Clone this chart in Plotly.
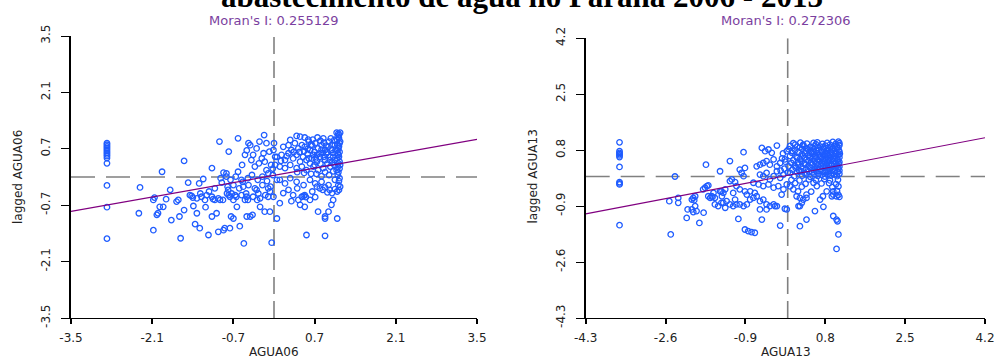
import plotly.graph_objects as go

# ---------------------------------------------------------------
# Diagrama de espalhamento de Moran - abastecimento de água (PR)
# ---------------------------------------------------------------
titulo = "abastecimento de água no Paraná 2006 - 2013"
anos = ["06", "13"]
moran_i = [0.255129, 0.272306]
intercepto = [0.04, 0.035]

ticks_06 = [-3.5, -2.1, -0.7, 0.7, 2.1, 3.5]
ticks_13 = [-4.3, -2.6, -0.9, 0.8, 2.5, 4.2]

# 2006: municípios com o menor valor padronizado (mesma abscissa)
agua06_min = -2.88
lag06_min = [0.84, 0.80, 0.76, 0.72, 0.68, 0.64, 0.60, 0.56, 0.52, 0.47,
             0.34, -0.21, -0.75, -1.53]

# 2006: demais municípios (AGUA06, lagged AGUA06)
pares06_esq = [
    (-2.31, -0.26), (-2.33, -0.90), (-1.93, 0.13), (-2.08, -1.32), (-2.06, -0.51),
    (-2.08, -0.57), (-1.97, -0.74), (-1.91, -0.74), (-2.02, -0.94), (-2.00, -0.90),
    (-1.79, -0.32), (-1.77, -1.07), (-1.86, -0.55), (-1.68, -0.61), (-1.65, -0.57),
    (-1.61, -1.52), (-1.63, -0.98), (-1.55, 0.40), (-1.55, -0.82), (-1.48, -0.14),
    (-1.45, -0.45), (-1.42, -0.47), (-1.39, -0.72), (-1.36, -1.17), (-1.33, -0.90),
    (-1.29, -0.16), (-1.28, -1.27), (-1.25, -0.49), (-1.22, -0.05), (-1.19, -0.57),
    (-1.18, -0.75), (-1.13, -1.44), (-1.12, -0.36), (-1.07, 0.22), (-1.07, -0.98),
    (-1.05, -0.55), (-1.02, -0.28), (-0.99, -0.90), (-0.96, -1.36), (-0.94, 0.88),
    (-0.93, -0.57), (-0.90, -0.14), (-0.87, 0.11), (-0.87, -1.32), (-0.85, -1.27),
    (-0.82, 0.09), (-0.82, 0.01), (-0.79, -0.32), (-0.78, 0.63), (-0.76, -0.49),
    (-0.76, -1.27), (-0.74, -0.98), (-0.70, -0.57), (-0.70, -1.03), (-0.67, -0.45),
    (-0.64, -0.74), (-0.62, 0.96), (-0.62, 0.13), (-0.59, -1.22), (-0.56, -0.07),
    (-0.54, -0.12), (-0.53, -0.24), (-0.52, -1.65), (-0.50, 0.55), (-0.50, -0.57),
    (-0.47, -0.49), (-0.47, -0.98), (-0.41, -0.98), (-0.44, 0.84), (-0.41, 0.79),
    (-0.39, 0.42), (-0.37, -0.94), (-0.36, 0.55), (-0.33, 0.26), (-0.30, -0.32),
    (-0.27, -0.41), (-0.25, 0.88), (-0.24, -0.74), (-0.21, 0.46), (-0.18, 0.59),
    (-0.17, 1.04), (-0.16, -0.86), (-0.13, 0.84), (-0.13, 0.17), (-0.10, 0.09),
    (-0.10, -0.28), (-0.07, -0.36), (-0.07, -0.86), (-0.04, -1.63), (-0.01, 0.67),
    (0.02, 0.50), (-0.01, -0.49), (0.05, -0.07), (0.05, -1.03),
    (-1.40, -0.51), (-1.33, -0.53), (-1.27, -0.41), (-1.16, -0.45), (-1.07, -0.49),
    (-1.02, -0.57), (-0.96, -0.53), (-0.88, -0.57), (-0.81, -0.41), (-0.78, -0.45),
    (-0.73, -0.41), (-0.65, -0.49), (-0.56, -0.45), (-0.48, -0.41), (-0.45, -0.57),
    (-0.36, -0.49), (-0.29, -0.57), (-0.24, -0.53), (-0.15, -0.45), (-0.10, -0.49),
    (-0.80, -0.24), (-0.70, -0.20), (-0.60, -0.28), (-0.44, -0.20), (-0.33, -0.28),
    (-0.20, -0.20), (-0.06, -0.24), (-0.92, -0.03), (-0.75, -0.07), (-0.66, 0.01),
    (-0.45, -0.03), (-0.38, 0.05), (-0.28, -0.07), (-0.20, 0.01), (-0.12, -0.10),
    (-0.02, 0.05), (-0.55, 0.30), (-0.47, 0.66), (-0.30, 0.71), (-0.26, 0.34),
    (-0.16, 0.38), (-0.08, 0.63), (-0.05, 0.30), (0.00, 0.84), (-0.02, 0.21),
]
pares06_dir = [
    (0.39, 1.02), (0.45, 1.00), (0.53, 0.98), (0.59, 0.93), (0.67, 0.93),
    (0.75, 0.98), (0.85, 0.96), (1.08, 1.10), (1.11, 1.08), (1.14, 1.10), (1.12, 1.04),
    (0.16, 0.75), (0.25, 0.79), (0.30, 0.67), (0.36, 0.84), (0.42, 0.71),
    (0.48, 0.79), (0.53, 0.75), (0.62, 0.67), (0.71, 0.84), (0.76, 0.71),
    (0.82, 0.79), (0.88, 0.67), (0.94, 0.75), (0.99, 0.67), (1.05, 0.79),
    (1.11, 0.71), (1.14, 0.88), (0.05, 0.50), (0.13, 0.55), (0.19, 0.42),
    (0.25, 0.59), (0.33, 0.46), (0.39, 0.55), (0.45, 0.38), (0.50, 0.50),
    (0.56, 0.42), (0.65, 0.46), (0.74, 0.38), (0.79, 0.50), (0.88, 0.42),
    (0.97, 0.50), (1.05, 0.42), (1.11, 0.55), (0.02, 0.30), (0.10, 0.26),
    (0.19, 0.22), (0.28, 0.30), (0.39, 0.22), (0.48, 0.26), (0.56, 0.17),
    (0.68, 0.26), (0.76, 0.17), (0.85, 0.22), (0.97, 0.26), (1.08, 0.17),
    (1.14, 0.30), (0.60, 0.88), (0.64, 0.80), (0.70, 0.62), (0.80, 0.90),
    (0.86, 0.85), (0.90, 0.58), (0.95, 0.88), (1.00, 0.80), (1.02, 0.60),
    (0.58, 0.58), (0.68, 0.55), (0.84, 0.60), (0.92, 0.34), (0.62, 0.34),
    (0.70, 0.30), (0.80, 0.33), (1.00, 0.36), (0.44, 0.62), (0.52, 0.64),
    (0.34, 0.62), (0.28, 0.92), (0.22, 0.52), (0.12, 0.40), (0.40, 0.12),
    (0.52, 0.10), (0.64, 0.08), (0.88, 0.12), (0.95, 0.05),
    (1.10, 1.00), (1.12, 0.96), (1.09, 0.92), (1.13, 0.84), (1.10, 0.80),
    (1.12, 0.76), (1.09, 0.66), (1.13, 0.62), (1.10, 0.59), (1.12, 0.50),
    (1.09, 0.46), (1.13, 0.38), (1.11, 0.34), (1.10, 0.25), (1.13, 0.21),
    (1.11, 0.12), (1.10, 0.05), (1.13, -0.03), (1.12, -0.10), (1.11, -0.20),
    (1.14, -0.24), (1.12, -0.32), (1.09, -0.36),
    (0.58, 0.70), (0.66, 0.78), (0.72, 0.46), (0.78, 0.58), (0.86, 0.50),
    (0.92, 0.62), (0.96, 0.42), (1.02, 0.50), (1.04, 0.30), (0.60, 0.46),
    (0.73, 0.08), (0.82, 0.02), (1.02, 0.14), (1.06, 0.66), (0.90, 0.78),
    (0.98, 0.96), (1.04, 0.92), (0.82, 0.68), (0.74, 0.55),
    (0.10, -0.07), (0.19, -0.16), (0.28, -0.03), (0.39, -0.12), (0.51, -0.20),
    (0.62, -0.07), (0.71, -0.16), (0.82, -0.12), (0.94, -0.20), (1.05, -0.07),
    (0.74, -0.24), (0.79, -0.28), (0.88, -0.26), (0.96, -0.32), (1.05, -0.30),
    (0.84, -0.32), (0.92, -0.38), (1.00, -0.40), (0.25, -0.32), (0.33, -0.45),
    (0.42, -0.57), (0.45, -0.69), (0.53, -0.74), (0.48, -0.49), (0.53, -0.45),
    (0.51, -0.47), (0.55, -0.50), (0.71, -0.50), (0.62, -0.57), (1.02, -0.57),
    (0.99, -0.69), (0.94, -0.86), (0.88, -1.03), (0.88, -0.98), (1.09, -1.03),
    (0.76, -0.86), (0.10, -0.65), (0.56, -1.44), (0.88, -1.46), (0.16, -0.40),
    (0.30, -0.60), (0.66, -0.36), (0.40, -0.28),
]

# 2013: municípios com o menor valor padronizado (mesma abscissa)
agua13_min = -3.58
lag13_min = [1.04, 0.77, 0.72, 0.68, 0.64, 0.59, 0.29, -0.17, -0.21, -0.24, -1.48]

# 2013: demais municípios (AGUA13, lagged AGUA13)
pares13_esq = [
    (-2.40, 0.00), (-2.52, -0.75), (-2.33, -0.65), (-2.33, -0.80), (-2.49, -1.76),
    (-2.13, -1.00), (-2.04, -1.00), (-2.15, -1.26), (-1.99, -0.72), (-1.97, -0.90),
    (-1.94, -1.05), (-2.01, -1.08), (-1.88, -1.41), (-1.79, -1.10), (-1.76, -0.34),
    (-1.72, -0.29), (-1.69, -0.60), (-1.74, 0.36), (-1.62, -0.60), (-1.58, -0.50),
    (-1.44, 0.16), (-1.44, -0.45), (-1.40, -0.60), (-1.37, -0.80), (-1.33, -0.95),
    (-1.23, -0.14), (-1.23, 0.47), (-1.16, -0.50), (-1.12, -0.70), (-1.09, -0.85),
    (-1.05, -1.29), (-0.94, 0.74), (-0.91, -1.61),
    (-2.01, -0.65), (-1.97, -0.60), (-2.04, -0.70), (-1.80, -0.39), (-1.69, -0.27),
    (-1.65, -0.65), (-1.60, -0.62), (-1.55, -0.65), (-1.55, -0.85), (-1.48, -0.90),
    (-1.41, -0.80), (-1.41, -0.45), (-1.37, -0.50), (-1.33, -0.39), (-1.30, -0.75),
    (-1.23, -0.85), (-1.16, -0.90), (-1.02, -0.85), (-0.94, -0.90), (-0.87, -0.85),
    (-1.19, -0.09), (-1.12, -0.17), (-1.09, -0.29), (-1.02, 0.21), (-0.98, 0.11),
    (-0.94, 0.01), (-0.91, 0.26), (-1.02, -0.39), (-0.91, -0.45), (-0.80, -0.45),
    (-0.70, -0.50), (-0.87, -0.55), (-0.80, -0.70), (-0.73, -0.65), (-0.66, -0.60),
    (-0.59, -0.75), (-0.52, -0.70), (-0.45, -0.85), (-0.38, -0.90), (-0.30, -0.85),
    (-0.23, -0.90), (-0.59, -1.00), (-0.55, -1.31), (-0.45, -1.00), (-0.84, -1.66),
    (-0.77, -1.69), (-0.70, -1.71), (-0.55, 0.87), (-0.48, 0.77), (-0.41, 0.82),
    (-0.34, 0.72), (-0.23, 0.94), (-0.66, 0.31), (-0.59, 0.36), (-0.52, 0.41),
    (-0.45, 0.47), (-0.38, 0.36), (-0.30, 0.52), (-0.23, 0.31), (-0.16, 0.41),
    (-0.59, 0.06), (-0.52, 0.01), (-0.45, 0.11), (-0.38, -0.09), (-0.30, 0.01),
    (-0.23, 0.16), (-0.16, -0.04), (-0.09, 0.06), (-0.73, -0.19), (-0.62, -0.24),
    (-0.52, -0.29), (-0.41, -0.24), (-0.30, -0.34), (-0.20, -0.29), (-0.09, -0.39),
    (-0.02, -0.24), (-0.16, -1.49), (-0.02, 0.77), (-0.02, -1.00), (-0.27, -0.90),
    (-0.13, -0.55), (-0.06, -0.98), (-0.12, 0.55), (-0.07, 0.24),
    (-0.10, 0.70), (-0.05, 0.45), (-0.15, 0.18), (0.00, 0.12),
]
pares13_dir = [
    (0.12, -0.39), (0.19, -0.60), (0.26, -0.65), (0.33, -0.70), (0.40, -0.65),
    (0.23, -0.90), (0.26, -1.51), (0.40, -1.31), (0.55, 1.02), (0.16, 0.97),
    (0.33, 0.97), (0.58, -1.05), (0.76, -0.92), (0.69, -0.70), (0.83, -0.45),
    (0.97, -0.55), (0.97, -1.20), (1.04, -1.31), (1.06, -1.36), (1.08, -1.76),
    (1.04, -2.20), (0.94, -0.60), (1.04, -0.60), (0.97, -0.45), (0.26, -0.90),
    (0.30, -0.80),
    (0.12, 1.01), (0.27, 1.03), (0.41, 1.00), (0.63, 1.04), (0.84, 1.02),
    (0.96, 1.05), (1.08, 1.06),
    (0.05, 0.93), (0.20, 0.91), (0.33, 0.94), (0.48, 0.90), (0.58, 0.93),
    (0.70, 0.91), (0.80, 0.94), (0.91, 0.90), (1.00, 0.93), (1.10, 0.95),
    (0.02, 0.83), (0.16, 0.80), (0.31, 0.84), (0.44, 0.81), (0.55, 0.83),
    (0.66, 0.80), (0.77, 0.84), (0.86, 0.81), (0.95, 0.83), (1.06, 0.86),
    (0.09, 0.72), (0.23, 0.74), (0.37, 0.70), (0.51, 0.73), (0.62, 0.71),
    (0.73, 0.74), (0.83, 0.70), (0.93, 0.73), (1.03, 0.71), (1.10, 0.75),
    (0.05, 0.62), (0.19, 0.60), (0.33, 0.64), (0.47, 0.61), (0.58, 0.63),
    (0.69, 0.60), (0.79, 0.64), (0.89, 0.61), (0.99, 0.62), (1.08, 0.65),
    (-0.06, 0.52), (0.12, 0.50), (0.26, 0.53), (0.40, 0.51), (0.53, 0.54),
    (0.65, 0.50), (0.76, 0.53), (0.86, 0.51), (0.96, 0.54), (1.06, 0.52),
    (0.08, 0.41), (0.22, 0.43), (0.36, 0.40), (0.50, 0.42), (0.62, 0.39),
    (0.73, 0.43), (0.83, 0.41), (0.93, 0.38), (1.02, 0.42), (1.10, 0.44),
    (0.02, 0.31), (0.15, 0.33), (0.29, 0.30), (0.44, 0.32), (0.58, 0.29),
    (0.70, 0.33), (0.82, 0.30), (0.94, 0.32), (1.05, 0.34),
    (0.10, 0.21), (0.24, 0.19), (0.40, 0.22), (0.55, 0.20), (0.69, 0.23),
    (0.82, 0.19), (0.95, 0.21), (1.08, 0.24),
    (0.05, 0.11), (0.20, 0.13), (0.36, 0.10), (0.52, 0.12), (0.66, 0.09),
    (0.80, 0.12), (0.93, 0.10), (1.06, 0.13),
    (0.14, 0.01), (0.31, 0.03), (0.48, -0.01), (0.64, 0.02), (0.79, 0.00),
    (0.92, 0.03), (1.05, 0.01),
    (0.60, 0.98), (0.74, 0.99), (0.90, 0.97), (1.02, 0.99), (1.10, 1.01),
    (0.26, 0.88), (0.40, 0.86), (0.53, 0.88), (0.64, 0.87), (0.75, 0.89),
    (0.86, 0.87), (0.96, 0.88), (1.05, 0.90), (0.10, 0.78), (0.38, 0.77),
    (0.50, 0.76), (0.61, 0.78), (0.72, 0.77), (0.82, 0.78), (0.91, 0.76),
    (1.00, 0.78), (1.09, 0.80), (0.30, 0.67), (0.44, 0.66), (0.55, 0.68),
    (0.66, 0.67), (0.76, 0.66), (0.85, 0.68), (0.95, 0.66), (1.04, 0.68),
    (1.11, 0.69), (0.20, 0.56), (0.35, 0.57), (0.47, 0.56), (0.60, 0.58),
    (0.71, 0.56), (0.81, 0.58), (0.91, 0.57), (1.01, 0.56), (1.10, 0.58),
    (0.30, 0.46), (0.44, 0.47), (0.57, 0.46), (0.68, 0.47), (0.79, 0.46),
    (0.88, 0.47), (0.98, 0.46), (1.07, 0.48), (0.22, 0.36), (0.36, 0.37),
    (0.51, 0.36), (0.64, 0.35), (0.76, 0.37), (0.88, 0.35), (0.99, 0.37),
    (1.09, 0.38), (0.17, 0.26), (0.33, 0.25), (0.48, 0.27), (0.62, 0.26),
    (0.76, 0.27), (0.89, 0.25), (1.01, 0.28), (1.10, 0.30), (0.28, 0.16),
    (0.45, 0.15), (0.60, 0.17), (0.74, 0.15), (0.87, 0.16), (1.00, 0.17),
    (1.10, 0.18), (0.40, 0.06), (0.57, 0.07), (0.72, 0.05), (0.86, 0.07),
    (0.99, 0.06), (1.10, 0.08),
    (0.08, -0.10), (0.25, -0.12), (0.45, -0.09), (0.60, -0.11), (0.78, -0.08),
    (0.90, -0.12), (1.07, -0.10),
    (0.16, -0.20), (0.38, -0.22), (0.55, -0.19), (0.72, -0.21), (0.88, -0.20),
    (1.03, -0.23), (0.05, -0.30), (0.30, -0.31), (0.62, -0.29), (0.95, -0.32),
    (1.08, -0.30), (0.22, -0.45), (0.50, -0.46), (1.05, -0.44), (0.40, -0.55),
    (1.08, -0.56), (0.75, -0.60), (1.10, -0.62),
]

AZUL = "#1f5cff"
ROXO = "#800080"
CINZA = "#808080"
FONTE = "DejaVu Sans"
W, H = 994, 358


def px_x(p):
    return p / W


def px_y(p):
    return 1 - p / H


fig = go.Figure()

paineis = [
    dict(ano=anos[0], xmin=agua06_min, ymin=lag06_min, esq=pares06_esq, dir=pares06_dir,
         ticks=ticks_06, xa="x", ya="y", I=moran_i[0], b=intercepto[0]),
    dict(ano=anos[1], xmin=agua13_min, ymin=lag13_min, esq=pares13_esq, dir=pares13_dir,
         ticks=ticks_13, xa="x2", ya="y2", I=moran_i[1], b=intercepto[1]),
]

for p in paineis:
    pts = p["esq"] + p["dir"]
    xs = [p["xmin"]] * len(p["ymin"]) + [a for a, _ in pts]
    ys = list(p["ymin"]) + [b for _, b in pts]
    lo, hi = p["ticks"][0], p["ticks"][-1]
    # linhas tracejadas nas médias (zero para variáveis padronizadas)
    fig.add_trace(go.Scatter(x=[lo, hi], y=[0, 0], mode="lines", xaxis=p["xa"], yaxis=p["ya"],
                             line=dict(color=CINZA, width=1.3, dash="24px,11px"),
                             hoverinfo="skip", showlegend=False))
    fig.add_trace(go.Scatter(x=[0, 0], y=[lo, hi], mode="lines", xaxis=p["xa"], yaxis=p["ya"],
                             line=dict(color=CINZA, width=1.6, dash="17px,7px"),
                             hoverinfo="skip", showlegend=False))
    fig.add_trace(go.Scatter(x=xs, y=ys, mode="markers", xaxis=p["xa"], yaxis=p["ya"],
                             marker=dict(symbol="circle-open", size=5.5, color=AZUL,
                                         line=dict(width=1.3, color=AZUL)),
                             showlegend=False))
    # reta de regressão: inclinação = I de Moran
    fig.add_trace(go.Scatter(x=[lo, hi], y=[p["b"] + p["I"] * lo, p["b"] + p["I"] * hi],
                             mode="lines", xaxis=p["xa"], yaxis=p["ya"],
                             line=dict(color=ROXO, width=1.2), showlegend=False))

eixo_comum = dict(showgrid=False, zeroline=False, showline=True, linecolor="black",
                  ticks="outside", tickcolor="black", automargin=False,
                  ticklabeloverflow="allow",
                  tickfont=dict(family=FONTE, size=12, color="#222"))


def eixo_x(dom, ticks):
    return dict(eixo_comum, domain=dom, range=[ticks[0], ticks[-1]], tickvals=ticks,
                ticktext=[f"{t:.1f}" for t in ticks], linewidth=1.2, ticklen=5,
                tickwidth=2, ticklabelstandoff=3)


def eixo_y(dom, ticks, anchor):
    return dict(eixo_comum, domain=dom, range=[ticks[0], ticks[-1]], tickvals=ticks,
                ticktext=[f"{t:.1f}" for t in ticks], linewidth=2, ticklen=8,
                tickwidth=1.2, tickangle=-90, anchor=anchor, ticklabelstandoff=6)


fig.update_layout(
    width=W, height=H, margin=dict(l=0, r=0, t=0, b=0, autoexpand=False),
    paper_bgcolor="white", plot_bgcolor="white",
    xaxis=eixo_x([px_x(71), px_x(477)], ticks_06) | dict(anchor="y"),
    yaxis=eixo_y([px_y(318), px_y(36)], ticks_06, "x"),
    xaxis2=eixo_x([px_x(585.7), px_x(985)], ticks_13) | dict(anchor="y2"),
    yaxis2=eixo_y([px_y(318), px_y(38.3)], ticks_13, "x2"),
)

anot = [
    dict(text=f"<b>{titulo}</b>", x=px_x(522), y=px_y(16), yanchor="bottom",
         font=dict(family="Liberation Serif", size=31, color="black")),
]
for p, cx, ylab_x in zip(paineis, [274, 785.5], [18, 532.5]):
    anot.append(dict(text=f"Moran's I: {p['I']:.6f}", x=px_x(cx), y=px_y(20), yanchor="middle",
                     font=dict(family=FONTE, size=13, color="#7B3FA0")))
    anot.append(dict(text=f"AGUA{p['ano']}", x=px_x(cx), y=px_y(352), yanchor="middle",
                     font=dict(family=FONTE, size=12, color="#222")))
    anot.append(dict(text=f"lagged AGUA{p['ano']}", x=px_x(ylab_x), y=px_y(177),
                     yanchor="middle", textangle=-90,
                     font=dict(family=FONTE, size=12, color="#222")))

fig.update_layout(annotations=[dict(a, xref="paper", yref="paper", showarrow=False,
                                    xanchor="center") for a in anot])

fig.write_html("out.html")
